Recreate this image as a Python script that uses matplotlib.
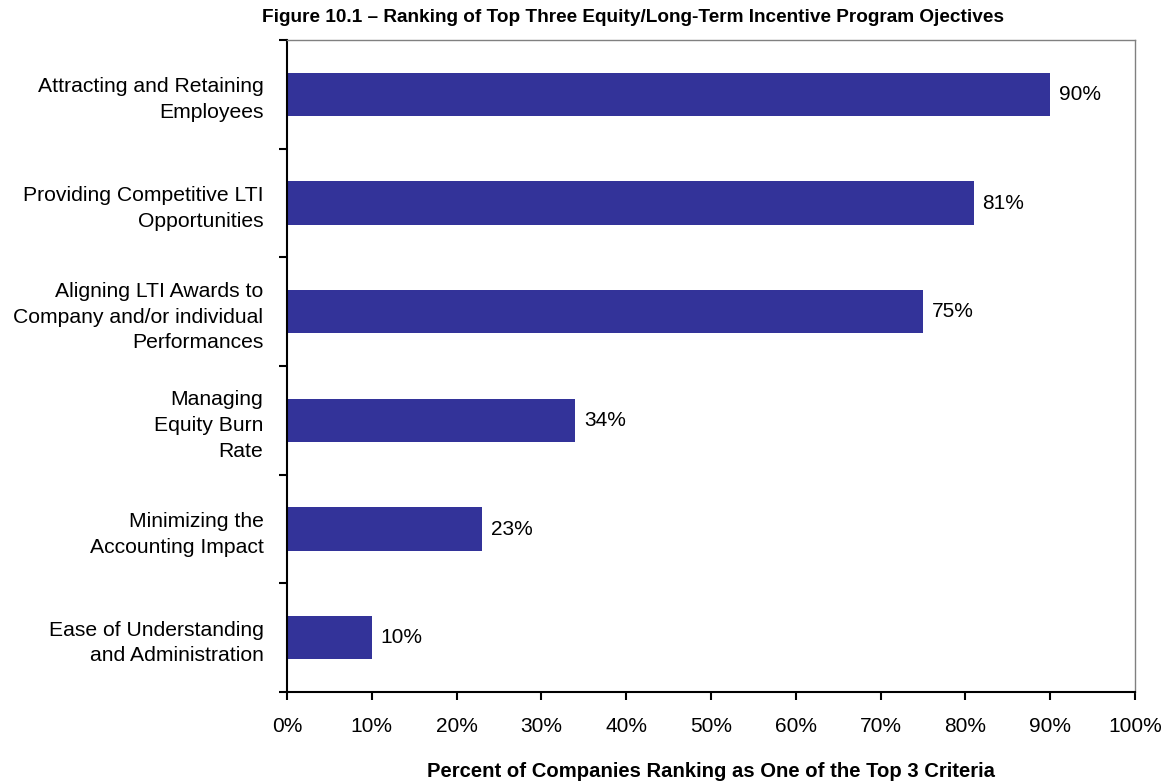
import matplotlib.pyplot as plt
import numpy as np

plt.rcParams['font.family'] = ['Liberation Sans', 'DejaVu Sans']

# objectives, top to bottom
objectives = ['Attracting and Retaining\nEmployees',
              'Providing Competitive LTI\nOpportunities',
              'Aligning LTI Awards to\nCompany and/or individual\nPerformances',
              'Managing\nEquity Burn\nRate',
              'Minimizing the\nAccounting Impact',
              'Ease of Understanding\nand Administration']
percent = [90, 81, 75, 34, 23, 10]
xticks = [0, 10, 20, 30, 40, 50, 60, 70, 80, 90, 100]

fig = plt.figure(figsize=(11.62, 7.82), dpi=100)
ax = fig.add_axes([0.247, 0.1151, 0.7298, 0.8337])

y = np.arange(len(objectives))
ax.barh(y, percent, height=0.4, color='#333399', zorder=2)

# value labels next to each bar
for yi, v in zip(y, percent):
    ax.text(v + 1, yi, f'{v}%', va='center', ha='left', fontsize=15)

ax.set_xlim(0, 100)
ax.set_ylim(len(objectives) - 0.5, -0.5)
ax.set_xticks(xticks)
ax.set_xticklabels([f'{t}%' for t in xticks], fontsize=15)

# category labels sit between the boundary ticks
ax.set_yticks(np.arange(-0.5, len(objectives), 1.0))
ax.set_yticklabels([])
ax.set_yticks(y, minor=True)
labels = ax.set_yticklabels(objectives, minor=True, fontsize=15.2, ha='right')
for lab in labels:
    lab.set_linespacing(1.45)
ax.tick_params(axis='y', which='minor', length=0, pad=17)
ax.tick_params(axis='y', which='major', length=6, width=1.5, direction='out')
ax.tick_params(axis='x', length=6, width=1.5, direction='out', pad=12)

for s in ['left', 'bottom']:
    ax.spines[s].set_linewidth(1.5)
    ax.spines[s].set_color('black')
for s in ['top', 'right']:
    ax.spines[s].set_linewidth(1)
    ax.spines[s].set_color('#808080')

fig.text(0.612, 0.0128, 'Percent of Companies Ranking as One of the Top 3 Criteria',
         ha='center', va='center', fontsize=14.6, fontweight='bold')
fig.text(0.545, 0.978, 'Figure 10.1 \u2013 Ranking of Top Three Equity/Long-Term Incentive Program Ojectives',
         ha='center', va='center', fontsize=13.7, fontweight='bold')

plt.savefig('out.png', dpi=100)
